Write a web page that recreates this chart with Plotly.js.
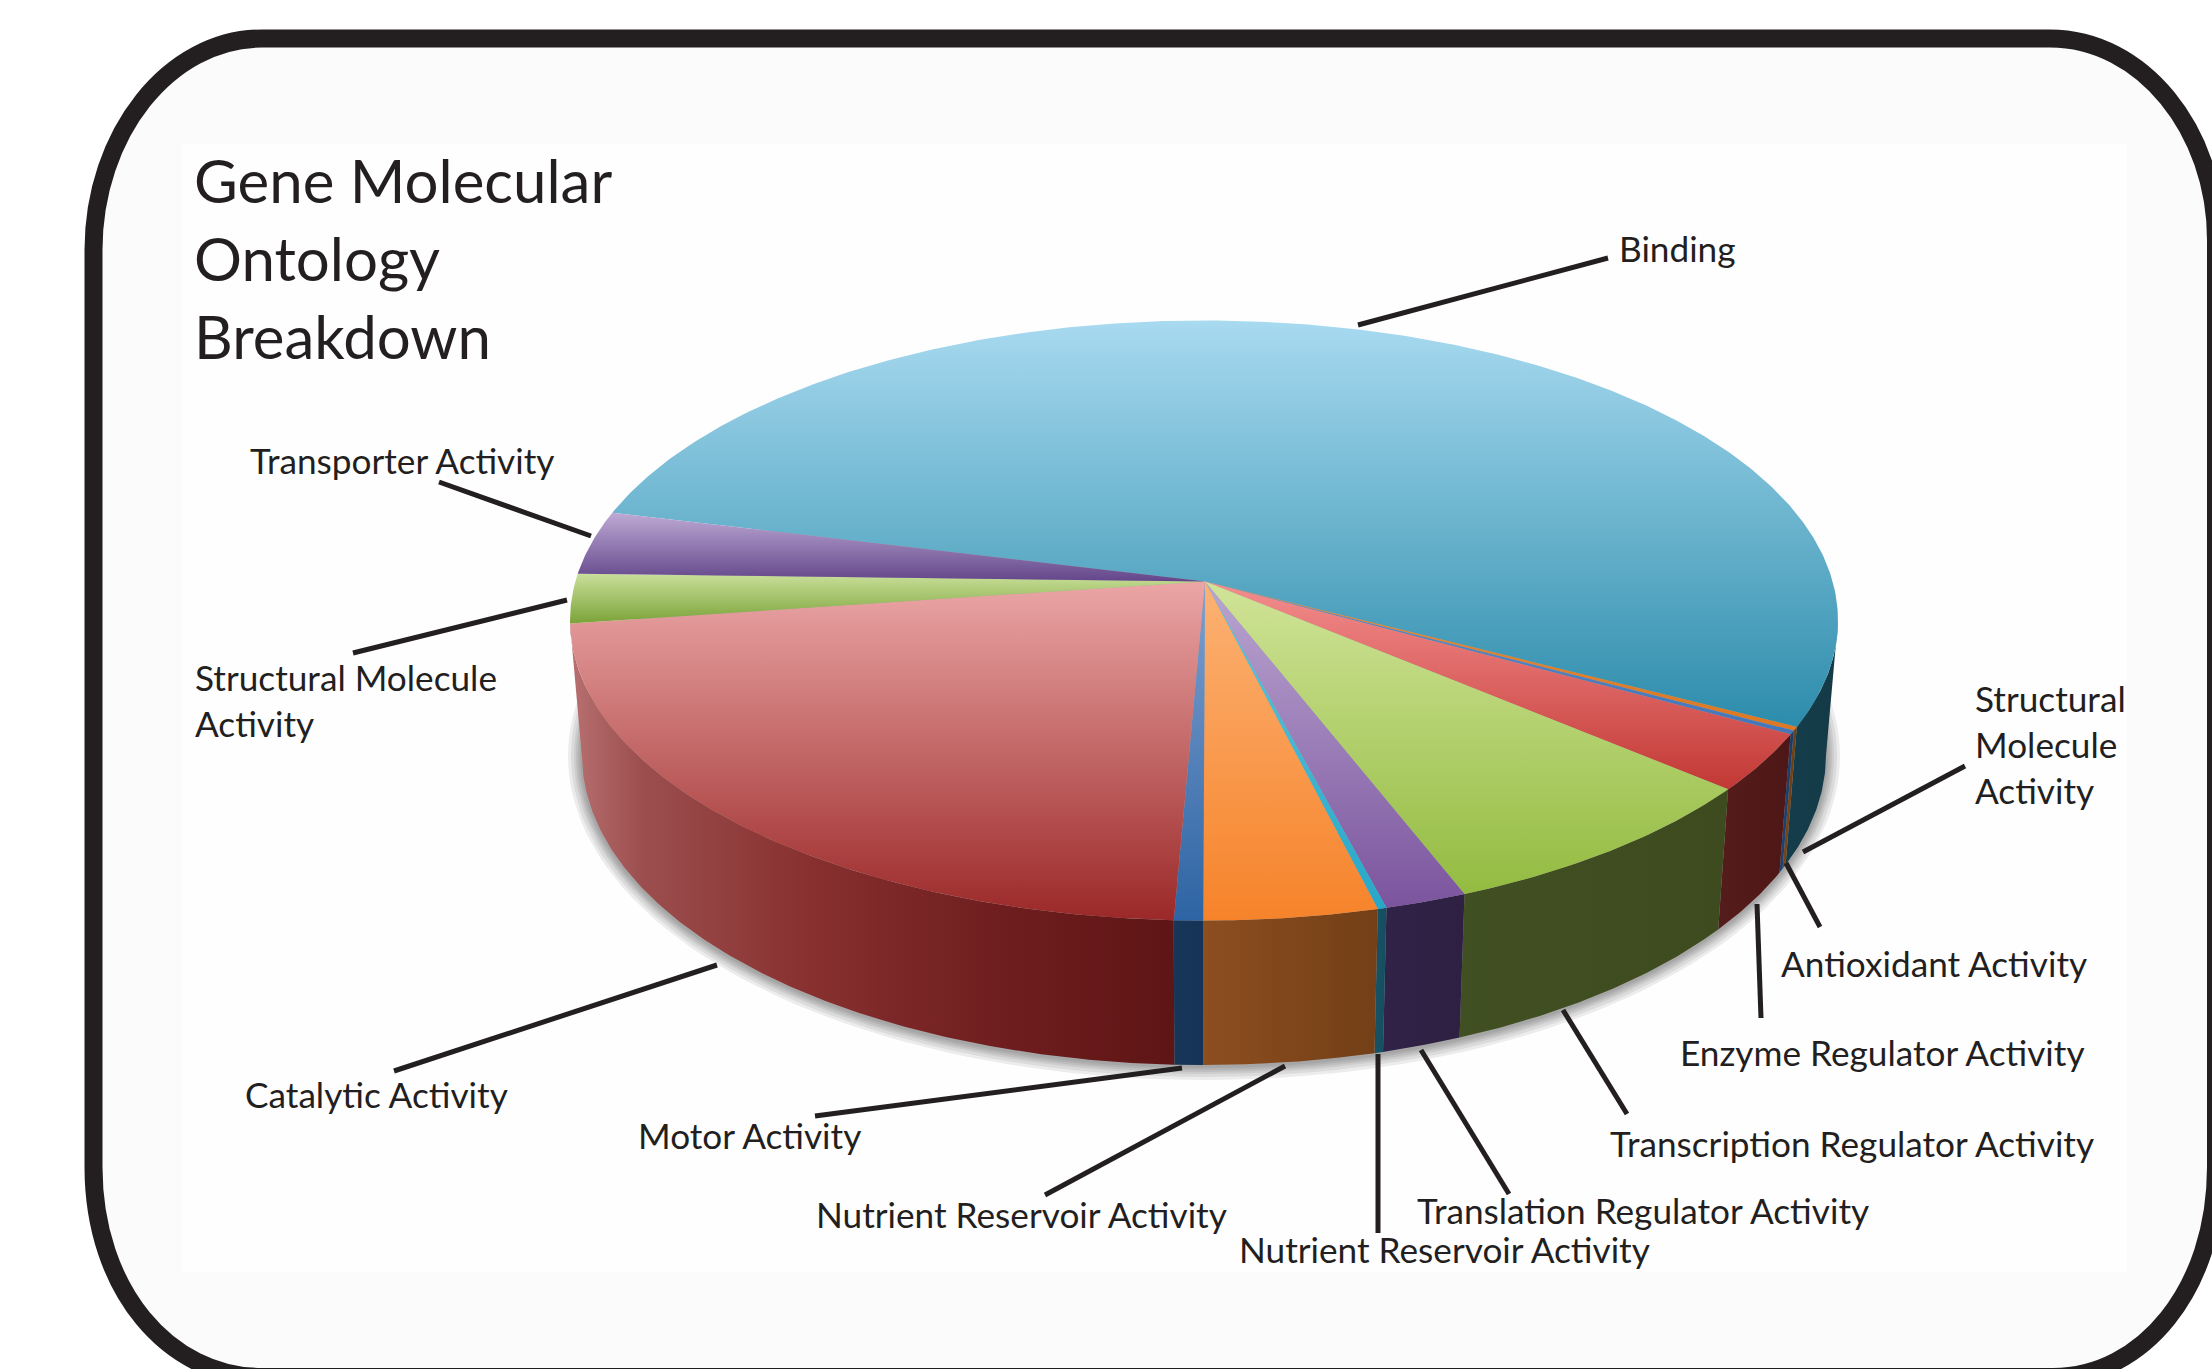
<!DOCTYPE html>
<html>
<head>
<meta charset="utf-8">
<script src="https://cdn.plot.ly/plotly-3.0.1.min.js"></script>
<style>html,body{margin:0;padding:0;background:#fff;overflow:hidden}#chart{width:2212px;height:1369px}</style>
</head>
<body>
<div id="chart"></div>
<script>
// Molecular function categories and their share of annotated genes (percent), clockwise from the right rim.
const categories = ["Binding", "Structural Molecule Activity", "Antioxidant Activity", "Enzyme Regulator Activity",
  "Transcription Regulator Activity", "Translation Regulator Activity", "Nutrient Reservoir Activity (trace)",
  "Nutrient Reservoir Activity", "Motor Activity", "Catalytic Activity", "Structural Molecule Activity (left)",
  "Transporter Activity"];
const shares = [53.8, 0.2, 0.2, 3.1, 7.9, 1.85, 0.2, 3.9, 0.65, 22.1, 2.65, 3.45];

// Face colours: lit end and saturated end of the vertical gradient on the top of each slice.
const faceLight = ["#A8DAF0", "#E58A35", "#5A8CC8", "#F48E8E", "#D0E498", "#BAA6D0", "#5CC8DE", "#FCB274", "#7FA0D0", "#EBA6A6", "#C9DF9A", "#BDAAD4"];
const faceDeep  = ["#2C8CAB", "#DD7722", "#4477B8", "#C23834", "#93BB40", "#7B549E", "#27A7C8", "#F6832A", "#2D64A3", "#9B2828", "#7BA338", "#63468A"];
// Rim colours: left and right ends of the horizontal gradient on the side wall.
const wallLeft  = ["#143D4B", "#7A4516", "#1E4270", "#541C1A", "#415022", "#312348", "#175264", "#8C4E1F", "#173658", "#B87070", "#55702A", "#42305C"];
const wallRight = ["#143A47", "#6B3E14", "#1B3C66", "#4E1717", "#3D4B1E", "#2E2042", "#154E60", "#733F17", "#153356", "#5E1515", "#4E6826", "#3E2C56"];

// Callout text, anchor and leader-line ends.
const labelText = ["Binding", "Structural<br>Molecule<br>Activity", "Antioxidant Activity", "Enzyme Regulator Activity",
  "Transcription Regulator Activity", "Translation Regulator Activity", "Nutrient Reservoir Activity",
  "Nutrient Reservoir Activity", "Motor Activity", "Catalytic Activity", "Structural Molecule<br>Activity", "Transporter Activity"];
const labelX = [1617, 1973, 1779, 1678, 1608, 1415, 1237, 814, 636, 243, 193, 248];
const labelY = [248, 744, 963, 1052, 1143, 1210, 1249, 1214, 1135, 1094, 700, 460];
const leaderX0 = [1358, 1803, 1786, 1757, 1563, 1421, 1378, 1285, 1182, 717, 567, 591];
const leaderY0 = [325, 852, 863, 904, 1010, 1050, 1054, 1066, 1068, 965, 600, 536];
const leaderX1 = [1608, 1965, 1820, 1761, 1627, 1509, 1378, 1045, 815, 394, 353, 439];
const leaderY1 = [258, 766, 927, 1018, 1114, 1194, 1233, 1195, 1116, 1071, 653, 482];

// Projected pie geometry in page pixels.
const topDisc = {cx: 1204, cy: 620.5, rx: 634, ry: 300};
const baseDisc = {cx: 1204, cy: 755, rx: 622, ry: 310};
const tilt = -0.13;          // how far the hub sits above the rim centre, in disc radii
const startDeg = 27.6 - 360 * shares[0] / 100;  // Binding ends on the right rim
// Arc range where the side wall faces the viewer; its ends are the disc's widest points.
const wallMin = Math.asin(-tilt) * 180 / Math.PI, wallMax = 172;

const rad = d => d * Math.PI / 180;
// Perspective of a circle on itself: equal value sweeps shrink toward the far rim.
function rimUV(deg) {
  const t = rad(deg), d = 1 + tilt * Math.sin(t);
  return [Math.sqrt(1 - tilt * tilt) * Math.cos(t) / d, (Math.sin(t) + tilt) / d];
}
const onDisc = (disc, deg) => {
  const [u, v] = rimUV(deg);
  return [disc.cx + disc.rx * u, disc.cy + disc.ry * v];
};
function arc(disc, a, b) {
  const n = Math.max(2, Math.ceil(Math.abs(b - a) * 2)), pts = [];
  for (let i = 0; i <= n; i++) pts.push(onDisc(disc, a + (b - a) * i / n));
  return pts;
}
const hub = [topDisc.cx + 1, topDisc.cy + topDisc.ry * tilt];

const polygon = (pts, name, gradType, stops) => ({
  type: "scatter", mode: "lines", name, showlegend: false, hoverinfo: "name",
  x: pts.map(p => p[0]), y: pts.map(p => p[1]),
  line: {width: 0}, fill: "toself",
  fillgradient: {type: gradType, colorscale: stops}
});

// Soft contact shadow under the base: stacked translucent discs.
const shadowTraces = [];
[14, 11, 8, 6, 4, 2].forEach(g => {
  const d = {cx: baseDisc.cx, cy: baseDisc.cy + 1, rx: baseDisc.rx + g, ry: baseDisc.ry + g};
  const pts = [];
  for (let i = 0; i <= 360; i += 2) pts.push([d.cx + d.rx * Math.cos(rad(i)), d.cy + d.ry * Math.sin(rad(i))]);
  shadowTraces.push({type: "scatter", mode: "lines", showlegend: false, hoverinfo: "skip",
    x: pts.map(p => p[0]), y: pts.map(p => p[1]), line: {width: 0}, fill: "toself",
    fillcolor: "rgba(60,60,60,0.09)"});
});

// Walls then faces, so the faces cover the inner edges.
const wallTraces = [], faceTraces = [];
let cursor = startDeg;
shares.forEach((s, i) => {
  const a = cursor, b = cursor + 360 * s / 100;
  cursor = b;
  const lo = Math.max(a, wallMin), hi = Math.min(b, wallMax);
  if (hi > lo) {
    const stops = categories[i] === "Catalytic Activity"
      ? [[0, wallLeft[i]], [0.12, "#9C4E4E"], [0.4, "#87302F"], [0.7, "#701E1F"], [1, wallRight[i]]]
      : [[0, wallLeft[i]], [1, wallRight[i]]];
    wallTraces.push(polygon(arc(topDisc, lo, hi).concat(arc(baseDisc, hi, lo)), categories[i], "horizontal", stops));
  }
  faceTraces.push(polygon([hub].concat(arc(topDisc, a, b)), categories[i], "vertical", [[0, faceDeep[i]], [1, faceLight[i]]]));
});

// Rounded frame running off the page at the right and bottom.
const frame = "M 93.5,250 C 93.5,134 169,38.5 262,38.5 L 2050,38.5 C 2142,38.5 2216,130 2216,240 L 2216,1167 C 2216,1290 2142,1377 2053,1377 L 262,1377 C 169,1377 93.5,1290 93.5,1167 Z";

const shapes = [
  {type: "path", path: frame, xref: "x", yref: "y", fillcolor: "#FBFBFB", line: {color: "#231F20", width: 18}, layer: "below"},
  {type: "rect", x0: 182, x1: 2127, y0: 144, y1: 1272, xref: "x", yref: "y", fillcolor: "#FEFEFE", line: {width: 0}, layer: "below"}
];
labelText.forEach((_, i) => shapes.push({type: "line", xref: "x", yref: "y", x0: leaderX0[i], y0: leaderY0[i], x1: leaderX1[i], y1: leaderY1[i],
  line: {color: "#231F20", width: 5}, layer: "above"}));

const annotations = labelText.map((t, i) => ({
  text: t, x: labelX[i], y: labelY[i], xref: "x", yref: "y", xanchor: "left", yanchor: "middle", align: "left",
  showarrow: false, font: {family: "Lato, 'Open Sans', sans-serif", size: 35.2, color: "#231F20"}
}));

const layout = {
  width: 2212, height: 1369, margin: {l: 0, r: 0, t: 0, b: 0},
  paper_bgcolor: "#FFFFFF", plot_bgcolor: "rgba(0,0,0,0)", showlegend: false,
  title: {text: "Gene Molecular<br>Ontology<br>Breakdown", x: 194 / 2212, xanchor: "left", y: 1 - 203 / 1369, yanchor: "top",
    font: {family: "Lato, 'Open Sans', sans-serif", size: 60, color: "#231F20"}},
  xaxis: {range: [0, 2212], visible: false, fixedrange: true},
  yaxis: {range: [1369, 0], visible: false, fixedrange: true},
  shapes, annotations
};

Plotly.newPlot("chart", shadowTraces.concat(wallTraces, faceTraces), layout, {displayModeBar: false, staticPlot: true});
</script>
</body>
</html>
